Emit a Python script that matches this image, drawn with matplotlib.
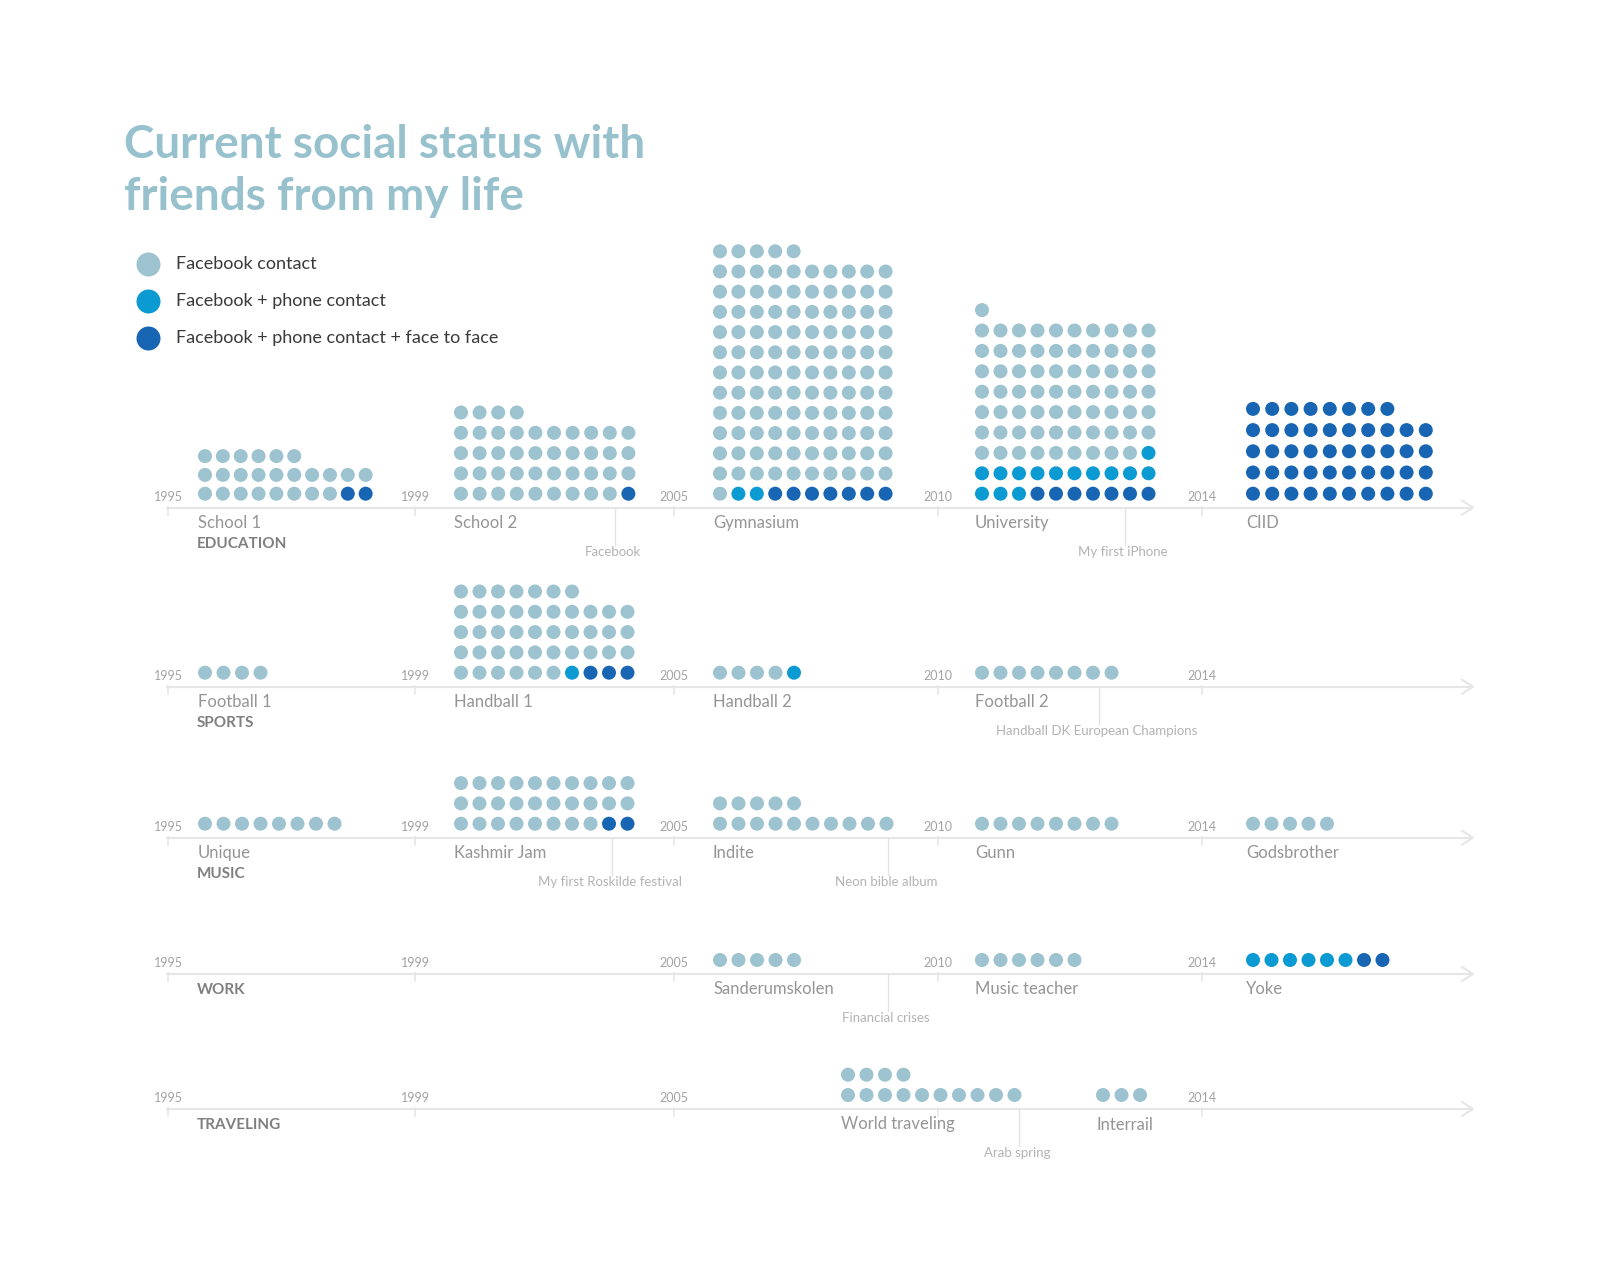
import matplotlib.pyplot as plt

# ---- data ----
title_lines = ["Current social status with", "friends from my life"]
legend_labels = ["Facebook contact", "Facebook + phone contact", "Facebook + phone contact + face to face"]
years = ["1995", "1999", "2005", "2010", "2014"]
categories = ["EDUCATION", "SPORTS", "MUSIC", "WORK", "TRAVELING"]

edu_names = ["School 1", "School 2", "Gymnasium", "University", "CIID"]
edu_fb = [24, 43, 116, 70, 0]
edu_phone = [0, 0, 2, 14, 0]
edu_face = [2, 1, 7, 7, 48]

sports_names = ["Football 1", "Handball 1", "Handball 2", "Football 2"]
sports_fb = [4, 43, 4, 8]
sports_phone = [0, 1, 1, 0]
sports_face = [0, 3, 0, 0]

music_names = ["Unique", "Kashmir Jam", "Indite", "Gunn", "Godsbrother"]
music_fb = [8, 28, 15, 8, 5]
music_phone = [0, 0, 0, 0, 0]
music_face = [0, 2, 0, 0, 0]

work_names = ["Sanderumskolen", "Music teacher", "Yoke"]
work_fb = [5, 6, 0]
work_phone = [0, 0, 6]
work_face = [0, 0, 2]

travel_names = ["World traveling", "Interrail"]
travel_fb = [14, 3]
travel_phone = [0, 0]
travel_face = [0, 0]

edu_events = ["Facebook", "My first iPhone"]
sports_events = ["Handball DK European Champions"]
music_events = ["My first Roskilde festival", "Neon bible album"]
work_events = ["Financial crises"]
travel_events = ["Arab spring"]

# year labels shown on each timeline (traveling hides 2010 under its dots)
shown_years = [years, years, years, years, ["1995", "1999", "2005", "", "2014"]]

# ---- layout (pixels) ----
LIGHT, MID, DARK = "#9cc3cf", "#0b9ad2", "#1865b4"
line_y = [507.7, 686.7, 837.7, 974, 1109]
tick_x = [168, 415, 674, 938, 1202]
cat_dy = [36, 36, 36, 16, 16]
group_x = [[205, 461, 720, 982, 1253],
           [205, 461, 720, 982],
           [205, 461, 720, 982, 1253],
           [720, 982, 1253],
           [848, 1103]]
group_dx = [[17.85, 18.6, 18.4, 18.5, 19.2], None, None, None, None]
group_dy = [[18.8, 20.3, 20.2, 20.4, 21.2], None, None, None, None]
event_x = [[615, 1125], [1099], [612, 888], [888], [1019]]
DX, DY, PER_ROW = 18.5, 20.3, 10
dot_s = (14 * 0.72) ** 2

rows = [
    (edu_names, edu_fb, edu_phone, edu_face, edu_events),
    (sports_names, sports_fb, sports_phone, sports_face, sports_events),
    (music_names, music_fb, music_phone, music_face, music_events),
    (work_names, work_fb, work_phone, work_face, work_events),
    (travel_names, travel_fb, travel_phone, travel_face, travel_events),
]

plt.rcParams['font.family'] = ['Lato', 'DejaVu Sans']
fig = plt.figure(figsize=(16, 12.8), dpi=100)
ax = fig.add_axes([0, 0, 1, 1])
ax.set_xlim(0, 1600)
ax.set_ylim(1280, 0)
ax.axis('off')

# title
ax.text(124, 158, title_lines[0], fontsize=33, fontweight='bold', color="#97c1cd", va='baseline')
ax.text(124, 210, title_lines[1], fontsize=33, fontweight='bold', color="#97c1cd", va='baseline')

# legend
for i, (lab, col) in enumerate(zip(legend_labels, [LIGHT, MID, DARK])):
    y = 264 + i * 37
    ax.scatter([147.5], [y], s=(24 * 0.72) ** 2, color=col, linewidths=0)
    ax.text(176, y, lab, fontsize=13, color="#3a3a3a", va='center')


def dots(x0, base, fb, phone, face, dx, dy):
    cols = [DARK] * face + [MID] * phone + [LIGHT] * fb
    n = len(cols)
    xs, ys = [], []
    for k in range(n):
        r = k // PER_ROW
        m = min(PER_ROW, n - r * PER_ROW)
        c = m - 1 - (k % PER_ROW)
        xs.append(x0 + c * dx)
        ys.append(base - r * dy)
    ax.scatter(xs, ys, s=dot_s, c=cols, linewidths=0, zorder=3)


for ri, (names, fb, phone, face, events) in enumerate(rows):
    ly = line_y[ri]
    # timeline with arrow
    ax.plot([166, 1473], [ly, ly], color="#e6e6e6", lw=1.5, solid_capstyle='butt')
    ax.plot([1462, 1473, 1462], [ly - 7, ly, ly + 7], color="#e6e6e6", lw=1.5)
    for tx, yr in zip(tick_x, shown_years[ri]):
        ax.plot([tx, tx], [ly - 1, ly + 7], color="#e6e6e6", lw=1.2)
        if yr:
            ax.text(tx, ly - 11, yr, fontsize=9, color="#a3a3a3", ha='center', va='center')
    ax.text(197, ly + cat_dy[ri], categories[ri], fontsize=11, fontweight='bold',
            color="#7f7f7f", va='center')
    for gi, name in enumerate(names):
        gx = group_x[ri][gi]
        dx = group_dx[ri][gi] if group_dx[ri] else DX
        dy = group_dy[ri][gi] if group_dy[ri] else DY
        dots(gx, ly - 14, fb[gi], phone[gi], face[gi], dx, dy)
        ax.text(gx - 7, ly + 15.5, name, fontsize=12, color="#959595", va='center')
    for ex, ev in zip(event_x[ri], events):
        ax.plot([ex, ex], [ly, ly + 37], color="#e3e3e3", lw=1)
        ax.text(ex - 2, ly + 44, ev, fontsize=9.5, color="#b3b3b3", ha='center', va='center')

fig.savefig("out.png", dpi=100, facecolor='white')
